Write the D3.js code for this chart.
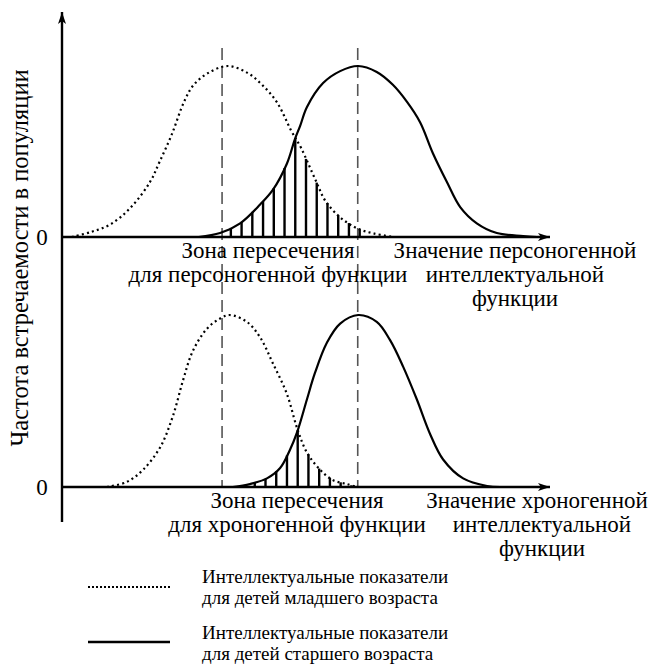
<!doctype html>
<html>
<head>
<meta charset="utf-8">
<script src="https://d3js.org/d3.v7.min.js"></script>
<style>
body { margin: 0; background: #fff; }
</style>
</head>
<body>
<svg width="653" height="671"></svg>
<script>
// curve samples: x in arbitrary "score" units (0..100), y as share of the peak
var topYoungX = [2, 6, 10, 14, 18, 20, 22.5, 25, 27, 30, 34, 38, 41, 44, 47, 49, 52, 54, 57, 60.5, 64, 68];
var topYoungY = [0, 0.03, 0.075, 0.17, 0.32, 0.44, 0.6, 0.79, 0.89, 0.96, 1.0, 0.96, 0.89, 0.79, 0.62, 0.52, 0.33, 0.21, 0.115, 0.05, 0.02, 0];

var topOldX = [28, 32.4, 36.5, 40.6, 43.2, 46.1, 47.7, 48.8, 50.2, 53.5, 57, 60.7, 64.5, 67.8, 70.7, 73.4, 76, 78.9, 81.6, 85, 89.1, 94.5, 97.3];
var topOldY = [0, 0.023, 0.08, 0.19, 0.275, 0.43, 0.57, 0.65, 0.76, 0.9, 0.97, 1.0, 0.965, 0.89, 0.79, 0.67, 0.49, 0.32, 0.175, 0.08, 0.023, 0.006, 0];

var botYoungX = [9.2, 13.3, 16.6, 20.1, 22.7, 24.8, 26.8, 29.7, 32.4, 34.4, 37.9, 40.6, 43.2, 46.1, 48.2, 50.2, 52.9, 55.5, 58.4, 60.5];
var botYoungY = [0, 0.03, 0.1, 0.23, 0.41, 0.62, 0.79, 0.92, 0.98, 1.0, 0.96, 0.87, 0.72, 0.54, 0.34, 0.2, 0.1, 0.04, 0.017, 0];

var botOldX = [35, 38.5, 42, 44.7, 46.7, 48.2, 50.2, 51.8, 54.3, 57, 60.7, 64.5, 67.2, 69.9, 72.7, 75.4, 78.1, 82.2, 87.1, 89.8];
var botOldY = [0, 0.017, 0.05, 0.11, 0.215, 0.32, 0.51, 0.66, 0.84, 0.95, 1.0, 0.96, 0.855, 0.70, 0.51, 0.31, 0.16, 0.05, 0.006, 0];

// hatching positions in the overlap zones and the two dashed guides
var topHatchX = [34.6, 36.8, 39.0, 41.2, 43.4, 45.6, 47.8, 50.0, 52.2, 54.4, 56.6, 58.8, 61.0];
var botHatchX = [39.5, 41.7, 43.9, 46.1, 48.3, 50.5, 52.7, 54.9, 57.1, 59.3];
var guideX = [32.8, 60.6];

// texts
var yTitle = "Частота встречаемости в популяции";
var zeroLabel = "0";
var topZoneLabel = ["Зона пересечения", "для персоногенной функции"];
var topValueLabel = ["Значение персоногенной", "интеллектуальной", "функции"];
var botZoneLabel = ["Зона пересечения", "для хроногенной функции"];
var botValueLabel = ["Значение хроногенной", "интеллектуальной", "функции"];
var legendYoung = ["Интеллектуальные показатели", "для детей младшего возраста"];
var legendOld = ["Интеллектуальные показатели", "для детей старшего возраста"];

var serif = "Liberation Serif, Times New Roman, serif";

var svg = d3.select("svg");

var x = d3.scaleLinear().domain([0, 100]).range([62, 550]);
var yTop = d3.scaleLinear().domain([0, 1]).range([237, 66]);
var yBot = d3.scaleLinear().domain([0, 1]).range([487, 315]);

// arrow head
svg.append("defs").append("marker")
    .attr("id", "arrow")
    .attr("viewBox", "0 0 12 8")
    .attr("refX", 12).attr("refY", 4)
    .attr("markerWidth", 12).attr("markerHeight", 8)
    .attr("markerUnits", "userSpaceOnUse")
    .attr("orient", "auto")
    .append("path").attr("d", "M0,0 L12,4 L0,8 L3,4 Z").attr("fill", "#000");

function zip(xs, ys) { return xs.map(function(v, i) { return [v, ys[i]]; }); }

function interp(xs, ys, v) {
    if (v <= xs[0] || v >= xs[xs.length - 1]) return 0;
    var i = d3.bisectRight(xs, v);
    var t = (v - xs[i - 1]) / (xs[i] - xs[i - 1]);
    return ys[i - 1] + t * (ys[i] - ys[i - 1]);
}

// dashed guides, run through both panels
svg.selectAll(".guide").data(guideX).enter().append("line")
    .attr("x1", d => x(d)).attr("x2", d => x(d))
    .attr("y1", 48).attr("y2", yBot(0))
    .attr("stroke", "#555").attr("stroke-width", 1.6)
    .attr("stroke-dasharray", "12,6");

function panel(y, youngX, youngY, oldX, oldY, hatchX) {
    var line = d3.line().x(d => x(d[0])).y(d => y(d[1])).curve(d3.curveCatmullRom.alpha(0.5));

    svg.selectAll(null).data(hatchX).enter().append("line")
        .attr("x1", d => x(d)).attr("x2", d => x(d))
        .attr("y1", y(0))
        .attr("y2", d => y(Math.min(interp(youngX, youngY, d), interp(oldX, oldY, d))))
        .attr("stroke", "#000").attr("stroke-width", 2.4);

    svg.append("path").datum(zip(youngX, youngY))
        .attr("d", line).attr("fill", "none")
        .attr("stroke", "#000").attr("stroke-width", 2.2)
        .attr("stroke-dasharray", "2,3.2");

    svg.append("path").datum(zip(oldX, oldY))
        .attr("d", line).attr("fill", "none")
        .attr("stroke", "#000").attr("stroke-width", 2.2);

    // horizontal axis with arrow
    svg.append("line")
        .attr("x1", x(0)).attr("x2", x(100))
        .attr("y1", y(0)).attr("y2", y(0))
        .attr("stroke", "#000").attr("stroke-width", 2.4)
        .attr("marker-end", "url(#arrow)");

    svg.append("text")
        .attr("x", 42).attr("y", y(0) + 8)
        .attr("text-anchor", "middle")
        .attr("font-family", serif)
        .attr("font-size", 23)
        .text(zeroLabel);
}

panel(yTop, topYoungX, topYoungY, topOldX, topOldY, topHatchX);
panel(yBot, botYoungX, botYoungY, botOldX, botOldY, botHatchX);

// vertical axis
svg.append("line")
    .attr("x1", x(0)).attr("x2", x(0))
    .attr("y1", 522).attr("y2", 12)
    .attr("stroke", "#000").attr("stroke-width", 2.4)
    .attr("marker-end", "url(#arrow)");

svg.append("text")
    .attr("transform", "translate(28,258)rotate(-90)")
    .attr("text-anchor", "middle")
    .attr("font-family", serif)
    .attr("font-size", 24.5)
    .text(yTitle);

function block(lines, cx, y0, step, size, shift) {
    svg.append("g").selectAll("text").data(lines).enter().append("text")
        .attr("x", (d, i) => cx + (i > 0 ? shift : 0))
        .attr("y", (d, i) => y0 + i * step)
        .attr("text-anchor", "middle")
        .attr("font-family", serif)
        .attr("font-size", size)
        .text(d => d);
}

block(topZoneLabel, 268, 258, 24, 23, 0);
block(topValueLabel, 515, 258, 24, 23, 0);
block(botZoneLabel, 297, 508, 24, 23, 0);
block(botValueLabel, 537, 508, 24, 23, 5);

// legend
svg.append("line")
    .attr("x1", 88).attr("x2", 170).attr("y1", 587).attr("y2", 587)
    .attr("stroke", "#000").attr("stroke-width", 2)
    .attr("stroke-dasharray", "2,2");
svg.append("line")
    .attr("x1", 88).attr("x2", 170).attr("y1", 642).attr("y2", 642)
    .attr("stroke", "#000").attr("stroke-width", 2.5);

function legendText(lines, y0) {
    svg.append("g").selectAll("text").data(lines).enter().append("text")
        .attr("x", 202).attr("y", (d, i) => y0 + i * 21)
        .attr("font-family", serif)
        .attr("font-size", 19)
        .text(d => d);
}
legendText(legendYoung, 583);
legendText(legendOld, 639);
</script>
</body>
</html>
